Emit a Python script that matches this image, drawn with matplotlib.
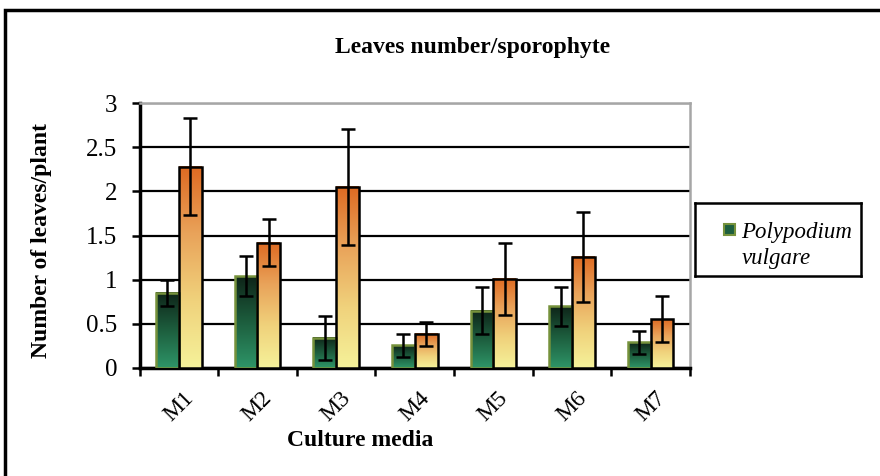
import matplotlib.pyplot as plt
from matplotlib.colors import LinearSegmentedColormap
from matplotlib.patches import Rectangle
import numpy as np

plt.rcParams['font.family'] = ['Liberation Serif', 'DejaVu Serif']

# Data
media = ['M1', 'M2', 'M3', 'M4', 'M5', 'M6', 'M7']
green_vals = [0.85, 1.04, 0.34, 0.26, 0.65, 0.70, 0.29]
green_err = [0.15, 0.23, 0.25, 0.13, 0.27, 0.22, 0.13]
orange_vals = [2.28, 1.42, 2.05, 0.385, 1.01, 1.26, 0.55]
orange_err = [0.55, 0.27, 0.66, 0.14, 0.41, 0.51, 0.26]

green_cmap = LinearSegmentedColormap.from_list('g', ['#2e9568', '#1d5e3e', '#0e2418'])
orange_cmap = LinearSegmentedColormap.from_list('o', ['#f5f29a', '#f0d27c', '#e9a35a', '#de6a22'])

fig = plt.figure(figsize=(8.8, 4.76), dpi=100)
ax = fig.add_axes([139.5 / 880, 1 - 368 / 476, (690 - 139.5) / 880, (368 - 103) / 476])

# figure border
fig.patches.append(Rectangle((5 / 880, -0.1), 1.2, 1 - 10 / 476 + 0.1, transform=fig.transFigure,
                             fill=False, edgecolor='black', linewidth=2.5))

x = np.arange(len(media))
w = 0.29
ax.set_xlim(-0.5, len(media) - 0.5)
ax.set_ylim(0, 3)

bars_g = ax.bar(x - w / 2, green_vals, w, facecolor='none', edgecolor='#76923c', linewidth=1.8, zorder=4)
bars_o = ax.bar(x + w / 2, orange_vals, w, facecolor='none', edgecolor='black', linewidth=1.8, zorder=4)

grad = np.linspace(0, 1, 256).reshape(-1, 1)
for bars, cmap in [(bars_g, green_cmap), (bars_o, orange_cmap)]:
    for b in bars:
        x0, y0 = b.get_x(), b.get_y()
        ax.imshow(grad, extent=[x0, x0 + b.get_width(), y0, y0 + b.get_height()],
                  origin='lower', aspect='auto', cmap=cmap, zorder=3)

ax.errorbar(x - w / 2, green_vals, yerr=green_err, fmt='none', ecolor='black',
            elinewidth=1.8, capsize=5, capthick=1.8, zorder=5)
ax.errorbar(x + w / 2, orange_vals, yerr=orange_err, fmt='none', ecolor='black',
            elinewidth=1.8, capsize=5, capthick=1.8, zorder=5)

ax.set_xlim(-0.5, len(media) - 0.5)
ax.set_ylim(0, 3)

ax.set_yticks([0, 0.5, 1, 1.5, 2, 2.5, 3])
ax.set_yticklabels(['0', '0.5', '1', '1.5', '2', '2.5', '3'], fontsize=18)
ax.yaxis.grid(True, color='black', linewidth=1.6, zorder=1)
ax.set_axisbelow(True)

ax.set_xticks(np.arange(-0.5, len(media), 1))
ax.set_xticklabels([])
ax.set_xticks(x, minor=True)
ax.set_xticklabels(media, minor=True, rotation=45, fontsize=17)
ax.tick_params(axis='x', which='minor', length=0, pad=14)
ax.tick_params(axis='x', which='major', length=6, width=1.8, direction='out')
ax.tick_params(axis='y', length=6, width=1.8, direction='out', pad=10)

for side in ['left', 'bottom']:
    ax.spines[side].set_linewidth(2.5)
    ax.spines[side].set_color('black')
for side in ['top', 'right']:
    ax.spines[side].set_linewidth(1.8)
    ax.spines[side].set_color('#a6a6a6')

fig.text(473 / 880, 1 - 48 / 476, 'Leaves number/sporophyte', ha='center', va='center',
         fontsize=17, fontweight='bold')
fig.text(42 / 880, 1 - 240 / 476, 'Number of leaves/plant', ha='center', va='center',
         rotation=90, fontsize=17, fontweight='bold')
fig.text(360 / 880, 1 - 441 / 476, 'Culture media', ha='center', va='center',
         fontsize=17, fontweight='bold')

# legend box
lax = fig.add_axes([695 / 880, 1 - 276 / 476, (861 - 695) / 880, (276 - 203) / 476])
lax.set_xlim(0, 1)
lax.set_ylim(0, 1)
lax.set_xticks([])
lax.set_yticks([])
for s in lax.spines.values():
    s.set_linewidth(1.8)
    s.set_color('black')
lax.add_patch(Rectangle((0.175, 0.56), 0.065, 0.15, facecolor='#1d5e3e', edgecolor='#76923c', linewidth=1.5))
lax.text(0.28, 0.42, 'Polypodium\nvulgare', ha='left', va='center', fontsize=16.5,
         style='italic', linespacing=1.3)

fig.savefig('out.png', dpi=100)
